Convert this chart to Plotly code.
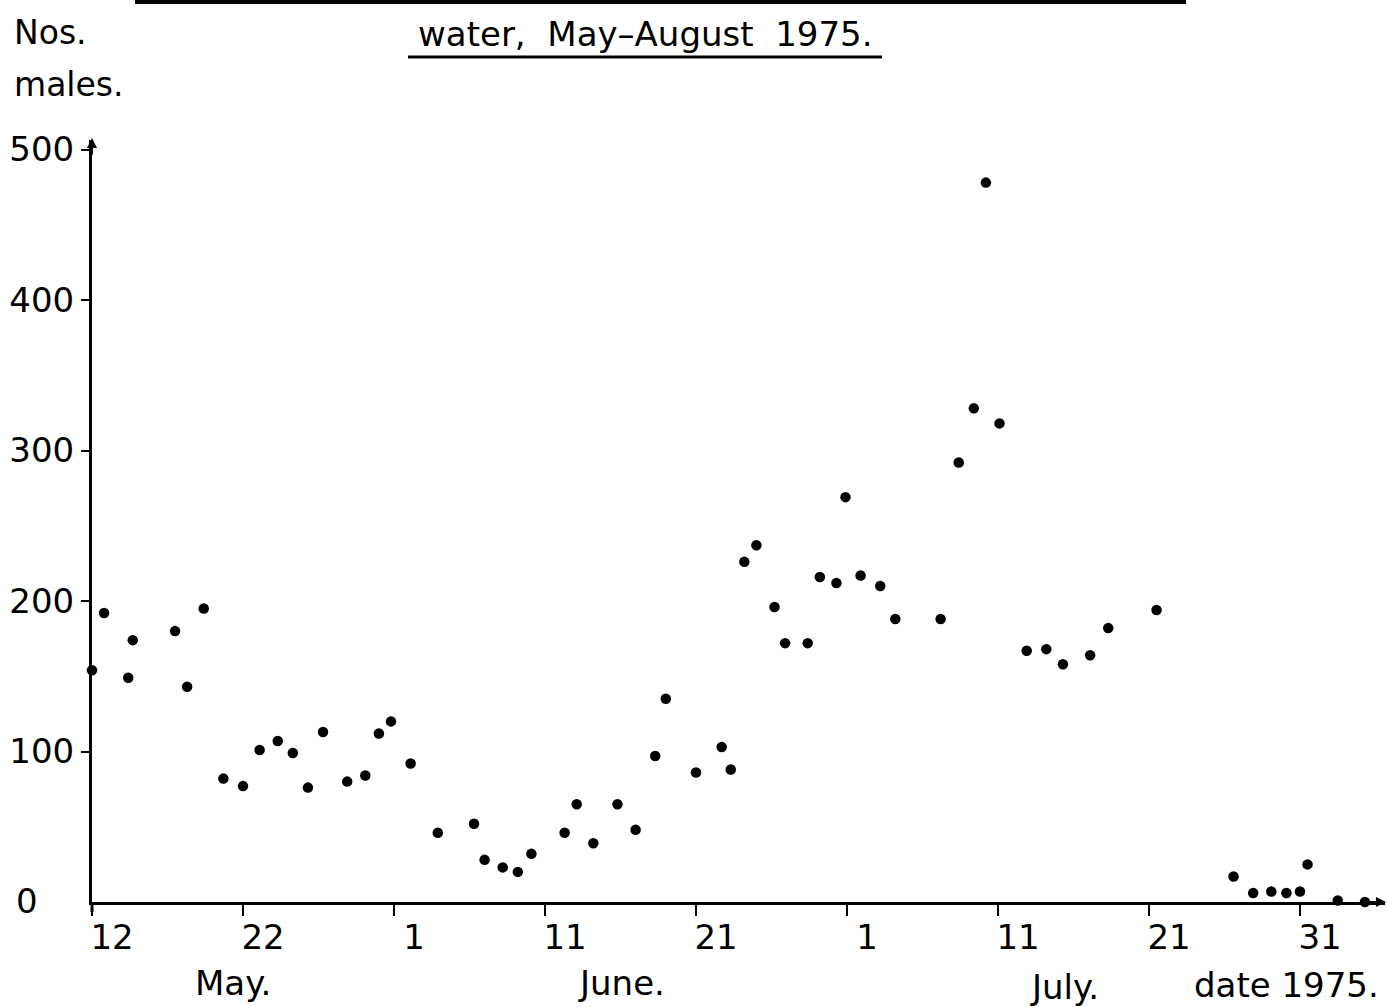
import plotly.graph_objects as go

# Days after 12 May 1975 (as plotted) and number of males
day = [0.0, 0.8, 2.4, 2.7, 5.5, 6.3, 7.4, 8.7, 10.0, 11.1, 12.3, 13.3, 14.3, 15.3,
       16.9, 18.1, 19.0, 19.8, 21.1, 22.9, 25.3, 26.0, 27.2, 28.2, 29.1, 31.3, 32.1,
       33.2, 34.8, 36.0, 37.3, 38.0, 40.0, 41.7, 42.3, 43.2, 44.0, 45.2, 45.9, 47.4,
       48.2, 49.3, 49.9, 50.9, 52.2, 53.2, 56.2, 57.4, 58.4, 59.2, 60.1, 61.9, 63.2,
       64.3, 66.1, 67.3, 70.5, 75.6, 76.9, 78.1, 79.1, 80.0, 80.5, 82.5, 84.3]
males = [154, 192, 149, 174, 180, 143, 195, 82, 77, 101, 107, 99, 76, 113,
         80, 84, 112, 120, 92, 46, 52, 28, 23, 20, 32, 46, 65,
         39, 65, 48, 97, 135, 86, 103, 88, 226, 237, 196, 172, 172,
         216, 212, 269, 217, 210, 188, 188, 292, 328, 478, 318, 167, 168,
         158, 164, 182, 194, 17, 6, 7, 6, 7, 25, 1, 0]

x_tickvals = [0, 10, 20, 30, 40, 50, 60, 70, 80]
x_ticktext = ["12", "22", "1", "11", "21", "1", "11", "21", "31"]
y_tickvals = [100, 200, 300, 400, 500]
y_ticktext = ["100", "200", "300", "400", "500"]
month_labels = ["May.", "June.", "July.", "date 1975."]

W, H = 1387, 1007
L, R, T, B = 92, 1385, 140, 902
FONT = "DejaVu Sans"


def px(xp):
    return (xp - L) / (R - L)


def py(yp):
    return (B - yp) / (B - T)


fig = go.Figure()
fig.add_trace(go.Scatter(
    x=day, y=males, mode="markers",
    marker=dict(color="black", size=10.5, line=dict(width=0)),
    cliponaxis=False, showlegend=False,
))

annotations = []


def text(s, xp, yp, size=34, anchor="left"):
    annotations.append(dict(
        text=s, x=px(xp), y=py(yp), xref="paper", yref="paper",
        xanchor=anchor, yanchor="middle", showarrow=False,
        font=dict(family=FONT, size=size, color="black"),
    ))


text("Nos.", 12, 32, 33)
text("males.", 12, 85, 33)
text("water,  May–August  1975.", 645, 34, 34, anchor="center")
text("0", 14, 901, 34)
text(month_labels[0], 193, 983, 34)
text(month_labels[1], 576, 983, 34)
text(month_labels[2], 1028, 987, 34)
text(month_labels[3], 1192, 985, 34)

# axis arrows
annotations.append(dict(x=0, y=py(138), xref="paper", yref="paper", ax=0, ay=18,
                        showarrow=True, arrowhead=2,
                        arrowsize=1, arrowwidth=2, arrowcolor="black", text=""))
annotations.append(dict(x=px(1386), y=0, xref="paper", yref="paper", ax=-18, ay=0,
                        showarrow=True, arrowhead=2, arrowsize=1, arrowwidth=2,
                        arrowcolor="black", text=""))

shapes = [
    dict(type="line", xref="paper", yref="paper", x0=px(135), x1=px(1186),
         y0=py(2), y1=py(2), line=dict(color="black", width=4)),
    dict(type="line", xref="paper", yref="paper", x0=px(408), x1=px(882),
         y0=py(57), y1=py(57), line=dict(color="black", width=3)),
    # small extension of y axis below the x axis (cross at origin)
    dict(type="line", xref="paper", yref="paper", x0=0, x1=0,
         y0=py(902), y1=py(912), line=dict(color="black", width=3)),
]

fig.update_layout(
    width=W, height=H,
    margin=dict(l=L, r=W - R, t=T, b=H - B),
    paper_bgcolor="white", plot_bgcolor="white",
    font=dict(family=FONT, size=34, color="black"),
    annotations=annotations, shapes=shapes,
    xaxis=dict(
        range=[0, (R - L) / 15.1], showgrid=False, zeroline=False,
        showline=True, linecolor="black", linewidth=3,
        tickmode="array", tickvals=x_tickvals, ticktext=x_ticktext,
        ticks="outside", ticklen=11, tickwidth=2, tickcolor="black",
        ticklabelshift=20, ticklabelstandoff=-8,
        tickfont=dict(family=FONT, size=34, color="black"),
    ),
    yaxis=dict(
        range=[0, (B - T) / 1.505], showgrid=False, zeroline=False,
        showline=True, linecolor="black", linewidth=3,
        tickmode="array", tickvals=y_tickvals, ticktext=y_ticktext,
        ticks="outside", ticklen=8, tickwidth=2, tickcolor="black",
        ticklabelstandoff=0,
        tickfont=dict(family=FONT, size=34, color="black"),
    ),
)

fig.write_html(
    "out.html",
    config={"displayModeBar": False},
    post_script="document.body.style.margin='0px';document.body.style.overflow='hidden';",
)
